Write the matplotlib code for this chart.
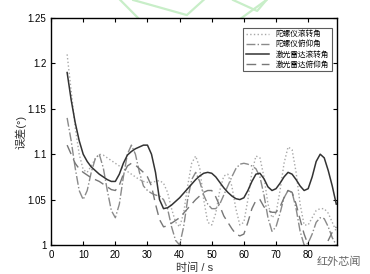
import matplotlib
matplotlib.use('Agg')
import numpy as np
import matplotlib.pyplot as plt
from matplotlib.lines import Line2D

plt.rcParams['font.family'] = ['Liberation Sans', 'Noto Sans CJK SC']
plt.rcParams['axes.unicode_minus'] = False

# 时间 (s)，每 1.25 s 读一个点
t = np.arange(5, 89, 1.25)

# 陀螺仪滚转角
gyro_roll = [1.21, 1.17, 1.13, 1.10,
             1.083, 1.08, 1.087, 1.095,
             1.10, 1.099, 1.096, 1.093,
             1.09, 1.087, 1.084, 1.081,
             1.078, 1.075, 1.072, 1.07,
             1.069, 1.069, 1.07, 1.071,
             1.068, 1.058, 1.04, 1.025,
             1.02, 1.035, 1.065, 1.09,
             1.098, 1.085, 1.05, 1.025,
             1.022, 1.035, 1.06, 1.076,
             1.078, 1.065, 1.04, 1.022,
             1.025, 1.05, 1.08, 1.098,
             1.096, 1.075, 1.045, 1.03,
             1.035, 1.06, 1.09, 1.108,
             1.105, 1.08, 1.045, 1.022,
             1.022, 1.03, 1.038, 1.04,
             1.04, 1.035, 1.025, 1.015]
# 陀螺仪俯仰角
gyro_pitch = [1.14, 1.115, 1.085, 1.06,
              1.05, 1.06, 1.08, 1.095,
              1.10, 1.085, 1.06, 1.038,
              1.03, 1.045, 1.075, 1.10,
              1.11, 1.10, 1.08, 1.065,
              1.06, 1.057, 1.055, 1.054,
              1.05, 1.04, 1.02, 1.005,
              1.0, 1.02, 1.05, 1.072,
              1.08, 1.07, 1.055, 1.045,
              1.04, 1.04, 1.045, 1.055,
              1.065, 1.075, 1.084, 1.089,
              1.09, 1.089, 1.087, 1.084,
              1.075, 1.055, 1.03, 1.015,
              1.02, 1.035, 1.052, 1.06,
              1.058, 1.04, 1.015, 1.0,
              1.002, 1.012, 1.025, 1.03,
              1.029, 1.02, 1.008, 1.0]
# 激光雷达滚转角
lidar_roll = [1.19, 1.16, 1.135, 1.115,
              1.10, 1.092, 1.086, 1.082,
              1.078, 1.075, 1.072, 1.07,
              1.07, 1.078, 1.09, 1.099,
              1.103, 1.106, 1.108, 1.11,
              1.11, 1.10, 1.08, 1.05,
              1.04, 1.041, 1.044, 1.048,
              1.052, 1.057, 1.062, 1.067,
              1.072, 1.076, 1.079, 1.08,
              1.079, 1.075, 1.069, 1.063,
              1.058, 1.054, 1.051, 1.05,
              1.052, 1.06, 1.07, 1.078,
              1.079, 1.073, 1.064, 1.06,
              1.062, 1.068, 1.075, 1.08,
              1.078, 1.072, 1.065, 1.06,
              1.062, 1.075, 1.092, 1.10,
              1.096, 1.082, 1.065, 1.045]
# 激光雷达俯仰角
lidar_pitch = [1.11, 1.10, 1.09, 1.084,
               1.08, 1.077, 1.074, 1.072,
               1.07, 1.067, 1.064, 1.061,
               1.06, 1.066, 1.078, 1.087,
               1.09, 1.088, 1.084, 1.08,
               1.075, 1.065, 1.045, 1.028,
               1.02, 1.021, 1.024, 1.027,
               1.03, 1.035, 1.04, 1.045,
               1.05, 1.054, 1.058, 1.06,
               1.06, 1.053, 1.043, 1.032,
               1.025, 1.018, 1.012, 1.01,
               1.012, 1.025, 1.04, 1.049,
               1.05, 1.042, 1.038, 1.036,
               1.036, 1.042, 1.052, 1.06,
               1.058, 1.045, 1.028, 1.012,
               1.0, 0.993, 0.99, 0.992,
               0.997, 1.005, 1.014, 1.02]

labels = ['陀螺仪滚转角', '陀螺仪俯仰角', '激光雷达滚转角', '激光雷达俯仰角']
xticks = [0, 10, 20, 30, 40, 50, 60, 70, 80]
yticks = [1, 1.05, 1.1, 1.15, 1.2, 1.25]
ytick_labels = ['1', '1.05', '1.1', '1.15', '1.2', '1.25']

fig = plt.figure(figsize=(3.7, 2.74), dpi=100)
ax = fig.add_axes([0.138, 0.106, 0.773, 0.828])

ax.plot(t, gyro_roll, ls=':', color='#a8a8a8', lw=1.0, label=labels[0])
ax.plot(t, gyro_pitch, ls='-.', color='#8a8a8a', lw=1.0, label=labels[1])
ax.plot(t, lidar_roll, ls='-', color='#333333', lw=1.1, label=labels[2])
ax.plot(t, lidar_pitch, ls=(0, (7, 4)), color='#777777', lw=1.0, label=labels[3])

ax.set_xlim(0, 89)
ax.set_ylim(1, 1.25)
ax.set_xticks(xticks)
ax.set_yticks(yticks)
ax.set_yticklabels(ytick_labels)
ax.tick_params(direction='in', top=True, right=True, labelsize=7, length=3, width=0.8)
for s in ax.spines.values():
    s.set_linewidth(1.0)

ax.set_xlabel('时间 / s', fontsize=8, color='#333333', labelpad=2)
ax.set_ylabel('误差(°)', fontsize=8, color='#333333', labelpad=1)

leg = ax.legend(loc='upper right', fontsize=5.5, frameon=True, fancybox=False,
                edgecolor='#333333', handlelength=3.0, labelspacing=0.3,
                borderpad=0.4, bbox_to_anchor=(0.995, 0.975))
leg.get_frame().set_linewidth(0.8)

# 水印
for xs, ys in [([0.325, 0.49, 0.72], [1.0, 0.775, 1.0]),
               ([0.36, 0.505, 0.55], [1.0, 0.945, 1.0]),
               ([0.63, 0.695, 0.72], [1.0, 0.96, 1.0])]:
    fig.add_artist(Line2D(xs, ys, color='#c8eec8', lw=1.6, transform=fig.transFigure, zorder=0))
fig.text(0.915, 0.045, '红外芯闻', fontsize=8, color='#666666',
         family=['Noto Sans CJK SC'], ha='center', va='center')

fig.savefig('out.png', dpi=100)
